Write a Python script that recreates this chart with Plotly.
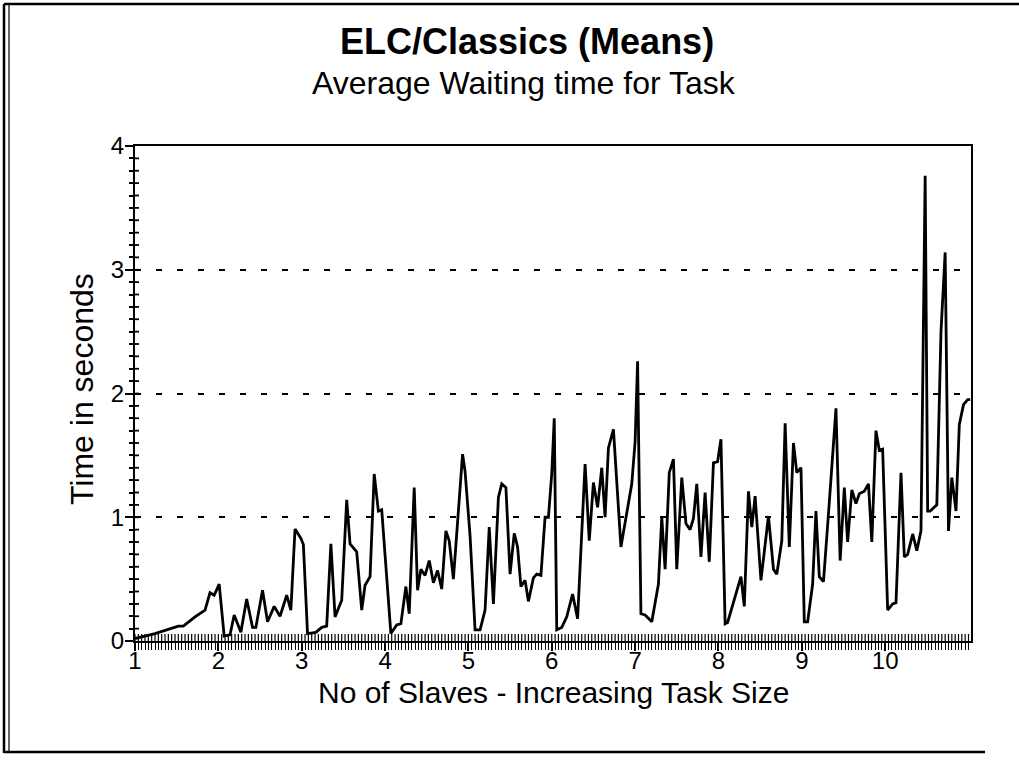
import numpy as np
import plotly.graph_objects as go

# Average waiting time per task, sampled along slave count / task size
x_slaves = [
    1.00, 1.24, 1.38, 1.52, 1.58, 1.72, 1.84, 1.90, 1.95, 2.01, 2.07, 2.14, 2.19, 2.27, 2.34,
    2.41, 2.45, 2.53, 2.59, 2.67, 2.74, 2.82, 2.87, 2.92, 2.99, 3.02, 3.07, 3.17, 3.24, 3.30,
    3.35, 3.40, 3.48, 3.54, 3.58, 3.66, 3.72, 3.76, 3.82, 3.87, 3.92, 3.96, 4.07, 4.14, 4.19,
    4.25, 4.29, 4.35, 4.39, 4.43, 4.48, 4.53, 4.58, 4.63, 4.68, 4.73, 4.77, 4.82, 4.93, 4.96,
    5.02, 5.08, 5.14, 5.20, 5.25, 5.30, 5.36, 5.40, 5.45, 5.50, 5.55, 5.59, 5.63, 5.68, 5.72,
    5.78, 5.82, 5.87, 5.92, 5.96, 6.00, 6.03, 6.06, 6.12, 6.18, 6.25, 6.31, 6.40, 6.45, 6.50,
    6.55, 6.60, 6.64, 6.68, 6.74, 6.83, 6.96, 7.00, 7.03, 7.07, 7.12, 7.20, 7.28, 7.32, 7.36,
    7.41, 7.46, 7.50, 7.56, 7.61, 7.66, 7.70, 7.74, 7.79, 7.84, 7.89, 7.94, 7.99, 8.03, 8.08,
    8.11, 8.27, 8.31, 8.36, 8.40, 8.44, 8.51, 8.60, 8.66, 8.70, 8.76, 8.80, 8.85, 8.90, 8.94,
    8.99, 9.03, 9.07, 9.13, 9.17, 9.21, 9.26, 9.33, 9.41, 9.46, 9.51, 9.55, 9.60, 9.65, 9.69,
    9.75, 9.80, 9.84, 9.89, 9.93, 9.97, 10.03, 10.09, 10.13, 10.19, 10.23, 10.27, 10.33, 10.38, 10.43,
    10.46, 10.48, 10.51, 10.54, 10.62, 10.67, 10.72, 10.76, 10.80, 10.85, 10.89, 10.94, 10.99, 11.02,
]
wait_time = [
    0.02, 0.06, 0.09, 0.12, 0.12, 0.195, 0.25, 0.39, 0.37, 0.46, 0.04, 0.05, 0.21, 0.07, 0.34,
    0.11, 0.11, 0.41, 0.155, 0.28, 0.20, 0.37, 0.25, 0.905, 0.83, 0.78, 0.06, 0.07, 0.11, 0.12,
    0.785, 0.195, 0.33, 1.14, 0.785, 0.72, 0.25, 0.45, 0.52, 1.35, 1.05, 1.06, 0.06, 0.13, 0.14,
    0.44, 0.22, 1.24, 0.41, 0.58, 0.53, 0.65, 0.47, 0.57, 0.42, 0.89, 0.81, 0.50, 1.51, 1.37,
    0.85, 0.09, 0.09, 0.25, 0.92, 0.30, 1.16, 1.27, 1.24, 0.54, 0.87, 0.76, 0.44, 0.49, 0.32,
    0.51, 0.54, 0.53, 1.00, 1.00, 1.35, 1.80, 0.09, 0.11, 0.195, 0.38, 0.18, 1.43, 0.81, 1.28,
    1.08, 1.40, 1.00, 1.56, 1.71, 0.76, 1.27, 1.61, 2.26, 0.22, 0.21, 0.155, 0.46, 1.00, 0.58,
    1.36, 1.47, 0.58, 1.32, 0.95, 0.90, 0.99, 1.27, 0.68, 1.20, 0.64, 1.44, 1.45, 1.63, 0.14,
    0.15, 0.52, 0.28, 1.21, 0.92, 1.17, 0.49, 1.01, 0.58, 0.54, 0.81, 1.76, 0.76, 1.60, 1.36,
    1.40, 0.155, 0.155, 0.46, 1.05, 0.52, 0.48, 1.12, 1.88, 0.65, 1.24, 0.80, 1.22, 1.11, 1.19,
    1.21, 1.27, 0.80, 1.70, 1.54, 1.55, 0.25, 0.30, 0.31, 1.36, 0.68, 0.70, 0.865, 0.73, 0.89,
    2.50, 3.76, 1.05, 1.05, 1.10, 2.50, 3.14, 0.89, 1.32, 1.05, 1.75, 1.91, 1.95, 1.95,
]

x_tick_vals = [1, 2, 3, 4, 5, 6, 7, 8, 9, 10]
y_tick_vals = [0, 1, 2, 3, 4]
X_MINOR_STEP = 0.04
Y_MINOR_STEP = 0.1

FONT = "Liberation Sans, Arial, Helvetica, sans-serif"
W, H = 1019, 760
L, R, T, B = 135, 48, 146, 119
X_RANGE = [1, 11.03]
Y_RANGE = [0, 4]


def px_x(p):
    return (p - L) / (W - L - R)


def px_y(p):
    return (H - B - p) / (H - T - B)


fig = go.Figure()
fig.add_trace(go.Scatter(
    x=x_slaves, y=wait_time, mode="lines",
    line=dict(color="black", width=2.8),
    showlegend=False, hoverinfo="skip",
))

tick_font = dict(family=FONT, size=24, color="black")

fig.update_layout(
    width=W, height=H,
    margin=dict(l=L, r=R, t=T, b=B, pad=0),
    paper_bgcolor="white", plot_bgcolor="white",
    font=dict(family=FONT, color="black"),
    xaxis=dict(
        range=X_RANGE, tickmode="array", tickvals=x_tick_vals,
        ticktext=[str(v) for v in x_tick_vals],
        ticks="outside", ticklen=8, tickwidth=1.8, tickcolor="black",
        minor=dict(dtick=X_MINOR_STEP, tick0=1, ticks="outside", ticklen=7,
                   tickwidth=1.2, tickcolor="black", showgrid=False),
        showline=True, linecolor="black", linewidth=2, mirror=True,
        showgrid=False, zeroline=False, tickfont=tick_font,
        ticklabelstandoff=-11,
    ),
    yaxis=dict(
        range=Y_RANGE, tickmode="array", tickvals=y_tick_vals,
        ticktext=[str(v) for v in y_tick_vals],
        ticks="outside", ticklen=8, tickwidth=1.8, tickcolor="black",
        minor=dict(dtick=Y_MINOR_STEP, tick0=0, ticks="outside", ticklen=4,
                   tickwidth=1.8, tickcolor="black", showgrid=False),
        showline=True, linecolor="black", linewidth=2, mirror=True,
        showgrid=True, gridcolor="black", gridwidth=2, griddash="6px,15px",
        zeroline=False, tickfont=tick_font, ticklabelstandoff=-4,
    ),
)

# inner halves of the crossing tick marks (pixel-sized, pinned to the axes)
for v in np.arange(X_RANGE[0], X_RANGE[1], X_MINOR_STEP):
    fig.add_shape(type="line", xref="x", yref="y", ysizemode="pixel",
                  yanchor=Y_RANGE[0], x0=v, x1=v, y0=0, y1=7,
                  line=dict(color="black", width=1.2), layer="above")
for v in np.arange(Y_RANGE[0] + Y_MINOR_STEP, Y_RANGE[1], Y_MINOR_STEP):
    fig.add_shape(type="line", xref="x", yref="y", xsizemode="pixel",
                  xanchor=X_RANGE[0], x0=0, x1=4, y0=v, y1=v,
                  line=dict(color="black", width=1.8), layer="above")

annotations = [
    dict(text="<b>ELC/Classics (Means)</b>", x=px_x(527), y=px_y(42),
         font=dict(family=FONT, size=36, color="black")),
    dict(text="Average Waiting time for Task", x=px_x(524), y=px_y(83),
         font=dict(family=FONT, size=32, color="black")),
    dict(text="No of Slaves - Increasing Task Size", x=px_x(553), y=px_y(692),
         font=dict(family=FONT, size=30, color="black")),
    dict(text="Time in seconds", x=px_x(82), y=px_y(389), textangle=-90,
         font=dict(family=FONT, size=32, color="black")),
]
for a in annotations:
    a.update(xref="paper", yref="paper", showarrow=False,
             xanchor="center", yanchor="middle")
fig.update_layout(annotations=annotations)

# outer page frame
frame = dict(type="line", xref="paper", yref="paper",
             line=dict(color="black", width=2.5))
fig.add_shape(frame, x0=px_x(4), x1=px_x(1022), y0=px_y(4), y1=px_y(4))
fig.add_shape(frame, x0=px_x(4), x1=px_x(4), y0=px_y(4), y1=px_y(753))
fig.add_shape(dict(frame, line=dict(color="black", width=1.2)),
              x0=px_x(9), x1=px_x(9), y0=px_y(4), y1=px_y(753))
fig.add_shape(frame, x0=px_x(4), x1=px_x(985), y0=px_y(752), y1=px_y(752))

fig.write_html("out.html")
